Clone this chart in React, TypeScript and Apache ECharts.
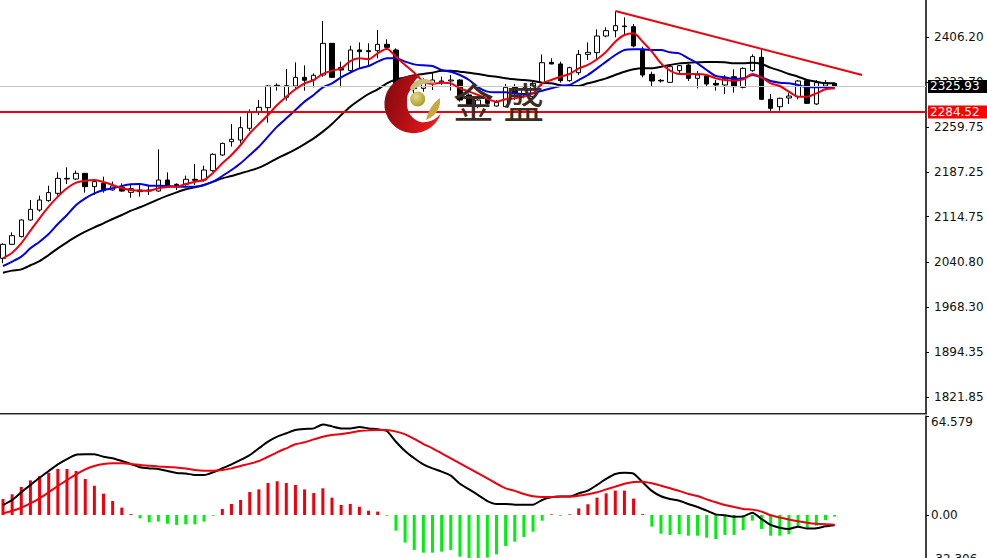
import React, { useEffect, useRef } from "react";
import * as echarts from "echarts";

// [open, close, low, high]
const candles: number[][] = [
  [2047,2069.7,2039,2071.3],[2069.7,2083.8,2068.6,2089.2],[2082.2,2109.2,2081.1,2110.3],[2109.2,2126.5,2108.1,2141.6],
  [2125.4,2141.6,2122.7,2148.7],[2140.6,2153.6,2138.9,2164.9],[2152.5,2176.8,2148.7,2186.5],[2175.7,2176.8,2167.6,2194.7],
  [2175.7,2184.9,2174.1,2189.3],[2184.9,2163.3,2153.6,2185],[2163.3,2171.4,2149.8,2174.1],[2168.7,2156.8,2153.6,2179.5],
  [2157.9,2164.4,2156.8,2171.4],[2162.2,2156.2,2155.2,2168.7],[2154.1,2160,2145.4,2167.6],[2157.9,2155.2,2147.1,2166],
  [2157.9,2156.2,2149.8,2164.4],[2156.2,2174.1,2155.2,2223.9],[2174.1,2166,2163.3,2186.5],[2167.1,2164.4,2157.9,2168.7],
  [2167.1,2175.2,2163.3,2181.2],[2175.2,2173.6,2166,2200.1],[2174.1,2190.3,2171.4,2197.4],[2189.3,2215.8,2187.6,2217.4],
  [2214.7,2233.6,2213.1,2234.7],[2236.3,2240.1,2228.2,2265],[2239,2259,2233.6,2276.9],[2258,2285,2253.6,2288.8],
  [2283.9,2292,2279.6,2303.9],[2291.5,2326.7,2267.2,2328.3],[2327.8,2326.1,2319.1,2331],[2308.3,2327.2,2302.9,2354.3],
  [2326.7,2340.7,2322.9,2365.1],[2340.7,2335.9,2319.1,2360.2],[2336.4,2344,2324.5,2347.2],[2344.5,2395.9,2341.8,2432.2],
  [2395.9,2340.7,2340,2396.5],[2356.4,2352.6,2324.5,2366.2],[2351.6,2385.1,2348.3,2392.1],[2385.1,2382.4,2355.3,2397.5],
  [2384,2382.4,2358,2395.9],[2384,2394.3,2371.6,2417.6],[2394.3,2389.4,2385.1,2402.4],[2385.1,2331,2329.9,2387.8],
  [2331,2322.9,2320.2,2336.4],[2322.3,2324,2314.8,2333.7],[2322.9,2331,2317.5,2339.1],[2331,2336.4,2320.2,2347.2],
  [2333.2,2334.8,2328.3,2341.8],[2334.8,2336.4,2319.1,2344.5],[2336.4,2303.9,2301.3,2337.5],[2312.1,2295.8,2293.1,2314.8],
  [2293.1,2303.9,2290.4,2309.4],[2306.7,2298.5,2295.8,2312.1],[2294.2,2300.2,2293.1,2303.9],[2293.1,2324.5,2292,2329.9],
  [2324.5,2314.8,2303.9,2329.9],[2312.1,2322.9,2306.7,2326.7],[2309.4,2331,2306.7,2336.4],[2332.1,2364.5,2325.6,2378],
  [2365.1,2362.4,2361.9,2371.6],[2362.4,2335.3,2332.1,2366.2],[2335.3,2356.4,2333.7,2358],[2348.3,2378,2344.5,2385.1],
  [2378,2381.3,2368.9,2397.5],[2380.8,2407.8,2368.9,2418.6],[2407.8,2416.5,2405.7,2421.9],[2416.5,2424.6,2405.7,2447.3],
  [2423,2424,2409.4,2438.1],[2423,2391.6,2389.4,2427.3],[2386.2,2344.5,2340.7,2390.5],[2345.6,2334.8,2325.6,2349.9],
  [2335.9,2334.8,2332.1,2338],[2332.6,2358,2332.1,2359.1],[2351.6,2359.7,2346.2,2360.8],[2360.8,2339.1,2334.8,2362.4],
  [2339.1,2344.5,2322.9,2351],[2342.9,2329.9,2326.7,2346.2],[2331,2328.3,2319.1,2336.4],[2328.3,2339.1,2313.7,2344.5],
  [2341.8,2325.6,2315.8,2353.7],[2324.5,2355.3,2322.9,2357],[2351.6,2374.3,2349.9,2378],[2373.2,2305,2303.9,2386.2],
  [2305,2290.4,2286.1,2313.7],[2293.1,2306.7,2286.6,2307.7],[2307.2,2310.4,2297.5,2315.8],[2309.4,2334.8,2305,2336.4],
  [2335.3,2298.5,2297.5,2337.5],[2297.5,2332.1,2295.8,2336.4],[2326.7,2332.1,2321.3,2336.4],[2331,2325.93,2324.5,2332.1],
];

const maFast = [
  2047,2056.2,2071.3,2091.9,2111.9,2130.8,2147.1,2160.6,2169.8,2173,2174.1,2170.9,2166,2160.6,2157.9,2156.8,2156.8,2160.6,
  2162.8,2163.3,2167.6,2171.4,2174.1,2186,2201.2,2214.7,2230.9,2249.9,2265,2279.6,2295.8,2309.4,2321.3,2331,2336.4,2346.2,
  2351.6,2355.3,2367.2,2371.6,2370,2379.7,2387.3,2374.3,2360.8,2348.3,2333.7,2329.9,2332.1,2331,2322.9,2317.5,2312.1,2305.6,
  2301.3,2305,2306.7,2309.4,2314.8,2331,2336.4,2341.8,2346.2,2355.3,2360.8,2370,2382.4,2398.6,2409.4,2412.2,2398.6,2382.4,
  2363.4,2351.6,2346.2,2346.2,2346.2,2344.5,2339.1,2336.4,2335.3,2337.5,2346.2,2340.7,2331,2326.7,2317.5,2309.4,2309.4,2314.8,2321.3,2322.9,
];
const maMid = [
  2034.5,2041.6,2049.7,2063.2,2074,2086.5,2102.7,2117.3,2133.5,2144.4,2152.5,2157.9,2160.6,2164.4,2167.1,2167.6,2164.9,2164.9,
  2164.4,2163.3,2163.3,2163.3,2166,2171.4,2180.6,2190.3,2201.2,2214.7,2228.2,2244.4,2260.7,2274.2,2287.7,2301.3,2312.1,2324.5,
  2331,2340.7,2348.3,2355.3,2359.1,2366.2,2371.6,2371.6,2366.2,2361.8,2360.2,2359.1,2352.6,2349.9,2344.5,2336.4,2324.5,2317.5,
  2316.4,2316.4,2314.8,2313.7,2314.8,2319.1,2322.9,2326.7,2328.3,2336.4,2344.5,2355.3,2366.2,2377,2385.1,2386.2,2386.2,2385.1,
  2385.1,2381.3,2379.7,2371.6,2363.4,2352.6,2342.9,2340.7,2338,2339.1,2344.5,2340.7,2334.8,2332.1,2331,2328.3,2324.5,2324.5,2324.5,2322.9,
];
const maSlow = [
  2023.7,2027,2029.1,2035.7,2042.6,2052.4,2063.2,2073,2082.2,2090.2,2097.3,2103.8,2110.8,2117.3,2124.3,2129.8,2136.3,2142.7,
  2148.7,2154.1,2159,2162.2,2166,2171.4,2176.8,2180.6,2184.9,2189.3,2194.1,2201.2,2209.3,2216.3,2223.9,2232.5,2241.7,2252.6,
  2265,2279.6,2293.1,2303.9,2313.7,2321.3,2331,2337.5,2340.7,2344,2346.2,2348.3,2351.6,2351.6,2349.9,2348.3,2346.2,2343.4,
  2341.8,2339.1,2337.5,2336.4,2334.8,2332.1,2331,2327.8,2326.7,2326.7,2331,2334.8,2339.1,2344.5,2349.9,2353.7,2355.3,2355.3,
  2358,2360.8,2363.4,2364.5,2365.1,2365.6,2365.6,2365.1,2363.4,2363.4,2364.5,2362.4,2356.4,2351.6,2346.2,2341.8,2336.4,2333.7,2331,2331,
];

const macdHist = [
  10.4,13.5,18.3,22.6,25.4,27.6,30,30,28.7,23.5,19.1,13.9,9.1,4.8,0.6,-2.2,-4.8,-4.3,-5.7,-6.5,-6.1,-6.1,-4.3,-0.5,
  3.9,7.2,9.8,15,16.7,20.9,22,20.9,19.6,16.7,14.3,17.4,11.3,6.5,7.2,5.4,2.8,2.2,-0.5,-10.2,-18,-22.8,-24.6,-24.6,-23.9,-22.8,
  -27.2,-28.3,-28.3,-27.8,-25.7,-20.2,-17.4,-14.3,-10.9,-3.7,0.4,-0.5,0.4,4.3,7,11.3,14.1,15.9,15.9,10.7,0.6,-7.6,
  -12.2,-13,-12.6,-13.5,-13.5,-14.8,-15.7,-13,-13,-9.8,-3.7,-9.1,-13.5,-13.5,-12.6,-7.6,-8.3,-7,-3.3,-1.1,
];
const macdDif = [
  6.5,9.8,14.8,19.6,24.3,28.7,33,36.5,39.3,39.6,39.6,38,37,35.2,33.3,31.1,30.4,30,28.7,27.4,27,26.1,26.1,27.8,30.4,33,35.9,39.1,43.5,47.8,51.1,53.3,55.4,56.1,56.5,59.1,
  57.8,56.5,56.5,57.4,56.5,55.9,54.8,47.8,41.7,37,33,30.4,28.3,25.7,20.4,16.7,13,9.1,7.2,7.2,6.7,6.7,6.7,9.8,11.5,12,12,14.1,15.9,19.6,23.5,26.7,27.6,27,21.3,15.7,
  12.2,10.4,9.3,7.2,5.2,2.8,0.4,-0.2,-1.1,-0.9,1.5,-2.6,-6.5,-8.3,-9.1,-7.6,-8.9,-8.7,-7.4,-6.7,
];
const macdDea = [
  1.1,2.6,4.8,7.6,10.9,14.8,18.9,22.8,26.5,29.8,32,33.3,33.7,33.7,33.3,32.6,32.2,31.7,31.3,30.9,30.4,29.3,28.9,28.9,29.3,30.4,32,33.5,35.2,38,40.9,43.5,46.1,47.4,49.3,51.1,
  52.2,52.8,53.7,54.8,55.2,55.4,55.4,54.4,52.6,49.6,46.3,43.5,40.2,37,33.7,30.4,27.2,23.9,20.4,17.4,15.7,13.7,12.2,11.7,11.7,12,12,12.6,13.5,14.8,16.7,18.5,20.4,21.5,21.7,20.7,
  19.1,17.4,15.7,13.7,12.4,10.2,8.3,6.5,5.2,3.9,3.5,2.2,-0.2,-1.7,-3,-4.1,-5,-5.7,-6.1,-6.3,
];

const priceTicks = [1821.85, 1894.35, 1968.3, 2040.8, 2114.75, 2187.25, 2259.75, 2332.7, 2406.2];
const macdTicks = [-32.306, 0, 64.579];
const lastPrice = 2325.93;
const supportPrice = 2284.52;
const trendStart = { slot: 68, price: 2448.4 };
const trendEnd = { slot: 95, price: 2344.5 };
const slots = Array.from({ length: 103 }, (_, i) => String(i));
const pad = (a: any[], blank: any = null) => [blank, ...a];

const FONT = '"DejaVu Sans", Verdana, sans-serif';
const RED = "#f0000c";
const GREEN = "#00ee10";

const crescent =
  "M420 76 A29 29 0 1 0 441 113 A21 21 0 0 1 420 122 A19 19 0 0 1 407 103 A18 18 0 0 1 413 87 A14 14 0 0 1 420 76 Z";
const swirl = "M410 88 C414 78 428 76 436 84 C428 82 418 84 412 92 Z";
const leaf = "M426 120 C428 110 434 102 440 98 C441 108 436 116 426 120 Z";

export default function App() {
  const ref = useRef<HTMLDivElement>(null);
  useEffect(() => {
    if (!ref.current) return;
    echarts.graphic.registerShape("jsCrescent", echarts.graphic.extendPath(crescent, {}));
    echarts.graphic.registerShape("jsSwirl", echarts.graphic.extendPath(swirl, {}));
    echarts.graphic.registerShape("jsLeaf", echarts.graphic.extendPath(leaf, {}));
    const chart = echarts.init(ref.current, undefined, { renderer: "svg" });
    const axisCommon = (customValues: number[], min: number, max: number, gridIndex: number, margin: number) => ({
      type: "value",
      gridIndex,
      position: "right",
      min,
      max,
      scale: true,
      splitLine: { show: false },
      axisLine: { show: true, onZero: false, lineStyle: { color: "#000", width: 1.5 } },
      axisTick: { show: true, length: 3, customValues, lineStyle: { color: "#000" } },
      axisLabel: {
        customValues,
        margin,
        color: "#111",
        fontFamily: FONT,
        fontSize: 12,
        showMinLabel: true,
        showMaxLabel: true,
        verticalAlignMaxLabel: gridIndex === 1 ? "top" : "middle",
        verticalAlignMinLabel: gridIndex === 1 ? "bottom" : "middle",
        formatter: (v: number) => (gridIndex === 1 && v !== 0 ? v.toFixed(3) : v.toFixed(2)),
      },
    });
    const tag = (value: number, bg: string) => ({
      yAxis: value,
      label: {
        show: true,
        position: "end",
        distance: 2,
        formatter: value.toFixed(2),
        color: "#fff",
        backgroundColor: bg,
        fontFamily: FONT,
        fontSize: 12,
        width: 55,
        padding: [1, 2, 0, 2],
        align: "left",
      },
    });
    const maLine = (name: string, data: number[], color: string, z: number) => ({
      name,
      type: "line",
      xAxisIndex: 0,
      yAxisIndex: 0,
      data: pad(data),
      smooth: 0.25,
      showSymbol: false,
      symbol: "none",
      z,
      lineStyle: { color, width: 2 },
    });
    chart.setOption({
      animation: false,
      backgroundColor: "#fff",
      grid: [
        { left: -6.14, right: 61, top: 0, height: 413, outerBoundsMode: "none" },
        { left: -6.14, right: 61, top: 416, height: 148.5, outerBoundsMode: "none" },
      ],
      xAxis: [
        { type: "category", gridIndex: 0, data: slots, boundaryGap: false, show: false },
        { type: "category", gridIndex: 1, data: slots, boundaryGap: false, show: false },
      ],
      yAxis: [
        axisCommon(priceTicks, 1795.95, 2466.25, 0, 8),
        axisCommon(macdTicks, -32.306, 64.579, 1, 5),
      ],
      series: [
        {
          name: "Levels",
          type: "line",
          xAxisIndex: 0,
          yAxisIndex: 0,
          data: [],
          z: 1,
          markLine: {
            silent: true,
            symbol: "none",
            animation: false,
            data: [
              { ...tag(lastPrice, "#000"), lineStyle: { color: "#c4c4c4", width: 1, type: "solid" } },
              { ...tag(supportPrice, "#ff0000"), lineStyle: { color: RED, width: 2, type: "solid" } },
            ],
          },
        },
        {
          name: "Price",
          type: "candlestick",
          xAxisIndex: 0,
          yAxisIndex: 0,
          data: pad(candles, "-"),
          barWidth: 5,
          z: 2,
          itemStyle: { color: "#fff", color0: "#000", borderColor: "#000", borderColor0: "#000", borderWidth: 1 },
        },
        maLine("MA slow", maSlow, "#000", 3),
        maLine("MA mid", maMid, "#0000e6", 4),
        {
          ...maLine("MA fast", maFast, RED, 5),
          markLine: {
            silent: true,
            symbol: "none",
            animation: false,
            label: { show: false },
            lineStyle: { color: RED, width: 2, type: "solid" },
            data: [[
              { coord: [trendStart.slot, trendStart.price] },
              { coord: [trendEnd.slot, trendEnd.price] },
            ]],
          },
        },
        {
          name: "MACD",
          type: "bar",
          xAxisIndex: 1,
          yAxisIndex: 1,
          data: pad(macdHist),
          barWidth: 3,
          z: 2,
          itemStyle: { color: (p: any) => (p.value >= 0 ? RED : GREEN) },
        },
        {
          name: "DIF",
          type: "line",
          xAxisIndex: 1,
          yAxisIndex: 1,
          data: pad(macdDif),
          smooth: 0.2,
          symbol: "none",
          z: 3,
          lineStyle: { color: "#000", width: 2 },
        },
        {
          name: "DEA",
          type: "line",
          xAxisIndex: 1,
          yAxisIndex: 1,
          data: pad(macdDea),
          smooth: 0.2,
          symbol: "none",
          z: 4,
          lineStyle: { color: RED, width: 2 },
        },
      ],
      graphic: [
        { type: "rect", z: 50, shape: { x: 0, y: 413, width: 927, height: 1 }, style: { fill: "#222" } },
        { type: "rect", z: 50, shape: { x: 0, y: 414, width: 927, height: 1 }, style: { fill: "#999" } },
        {
          type: "jsCrescent",
          z: 100,
          x: 0,
          y: 0,
          style: {
            fill: new echarts.graphic.LinearGradient(0, 0, 1, 0.3, [
              { offset: 0, color: "#7d0a0c" },
              { offset: 0.55, color: "#b50f14" },
              { offset: 1, color: "#e8181c" },
            ]),
          },
        },
        { type: "jsSwirl", z: 100, x: 0, y: 0, style: { fill: "#c9bb78" } },
        { type: "jsLeaf", z: 100, x: 0, y: 0, style: { fill: "#c8a840" } },
        {
          type: "circle",
          z: 100,
          shape: { cx: 417.7, cy: 99, r: 7.5 },
          style: {
            fill: new echarts.graphic.RadialGradient(0.4, 0.35, 0.7, [
              { offset: 0, color: "#e4d98a" },
              { offset: 1, color: "#a89a20" },
            ]),
          },
        },
        {
          type: "text",
          z: 100,
          x: 453,
          y: 79,
          style: {
            text: "金 盛",
            fill: "#3a2c22",
            font: '400 41px "Noto Sans CJK SC"',
          },
        },
      ],
    });
    return () => chart.dispose();
  }, []);
  return (
    <div
      ref={ref}
      style={{ position: "fixed", left: 0, top: 0, width: 987, height: 558, overflow: "hidden", background: "#fff" }}
    />
  );
}
